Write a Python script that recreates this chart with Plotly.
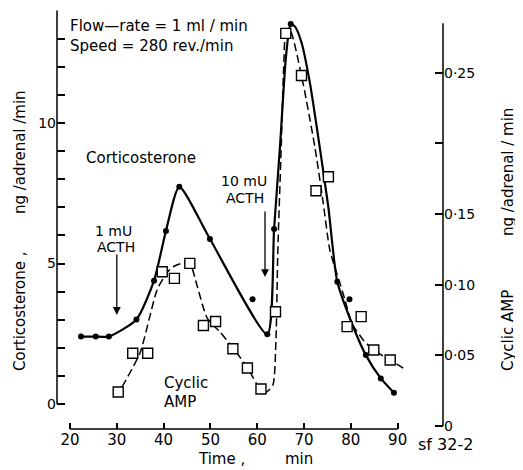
import plotly.graph_objects as go

# corticosterone (ng/adrenal/min), filled dots
cort_t = [22.35, 25.5, 28.3, 34.2, 37.95, 40.5, 43.35, 49.9, 59.0, 62.15,
          63.6, 67.15, 77.1, 79.7, 83.2, 86.4, 89.2]
cort_v = [2.40, 2.40, 2.40, 3.01, 4.39, 6.16, 7.73, 5.87, 3.73, 2.48,
          6.23, 13.52, 4.35, 3.73, 1.74, 0.91, 0.40]

# hand-drawn solid curve through the corticosterone points
cort_curve_t = [22.35, 25.5, 28.3, 34.2, 37.95, 40.5, 43.35, 49.9, 62.15, 63.6,
                64.86, 66.14, 67.15, 68.07, 69.5, 71.27, 72.7, 75.18, 77.1,
                80.5, 83.2, 86.4, 89.2]
cort_curve_v = [2.40, 2.40, 2.40, 3.01, 4.39, 6.16, 7.73, 5.87, 2.48, 6.23,
                9.16, 12.36, 13.52, 13.43, 12.84, 11.41, 9.87, 7.02, 4.35,
                2.75, 1.74, 0.91, 0.40]

# cyclic AMP (ng/adrenal/min), open squares
camp_t = [30.3, 33.4, 36.6, 39.7, 42.3, 45.6, 48.5, 51.1, 54.8, 57.9,
          60.8, 63.9, 66.1, 69.45, 72.55, 75.2, 79.2, 82.2, 84.9, 88.4]
camp_v = [0.0241, 0.0515, 0.0515, 0.1092, 0.1045, 0.1151, 0.0711, 0.0740,
          0.0547, 0.0410, 0.0262, 0.0809, 0.2779, 0.2481, 0.1665, 0.1764,
          0.0703, 0.0774, 0.0538, 0.0467]

# hand-drawn dashed curve for cyclic AMP
camp_curve_t = [31.1, 34.95, 38.6, 40.65, 42.05, 43.85, 45.6, 47.1, 49.3, 52.05,
                54.9, 57.9, 60.6, 61.9, 63.35, 64.0, 64.4, 65.1, 65.7, 66.1,
                67.0, 69.45, 72.3, 74.1, 75.5, 77.0, 78.75, 80.2, 82.65, 84.8,
                88.4, 91.8]
camp_curve_v = [0.0276, 0.0517, 0.0963, 0.1083, 0.1127, 0.1151, 0.1151, 0.0998,
                0.0764, 0.0665, 0.0550, 0.0413, 0.0262, 0.0240, 0.0290, 0.0609,
                0.1246, 0.1953, 0.2590, 0.2779, 0.2800, 0.2480, 0.1977, 0.1578,
                0.1246, 0.1080, 0.0892, 0.0727, 0.0609, 0.0538, 0.0467, 0.0396]

x_ticks = [20, 30, 40, 50, 60, 70, 80, 90]
left_ticks = list(range(0, 15))
left_labels = ['0', '', '', '', '', '5', '', '', '', '', '10', '', '', '', '']
right_ticks = [0, 0.05, 0.10, 0.15, 0.20, 0.25]
right_labels = ['0', '0·05', '0·10', '0·15', '', '0·25']

# the page body has an 8px margin, so the figure is shrunk and shifted by it
OFF = 8
W, H = 523 - OFF, 470 - OFF
L, R, T, B = 57, 443, 10, 429   # plot area, page pixels
FONT = 'DejaVu Sans, Verdana, sans-serif'


def px(x):
    return (x - L) / (R - L)


def py(y):
    return (B - y) / (B - T)


fig = go.Figure()

fig.add_trace(go.Scatter(x=cort_curve_t, y=cort_curve_v, mode='lines',
                         line=dict(color='black', width=2.2, shape='spline', smoothing=0.6),
                         hoverinfo='skip', showlegend=False))
fig.add_trace(go.Scatter(x=camp_curve_t, y=camp_curve_v, mode='lines', yaxis='y2',
                         line=dict(color='black', width=1.5, dash='8px,4px',
                                   shape='spline', smoothing=0.6),
                         hoverinfo='skip', showlegend=False))
fig.add_trace(go.Scatter(x=cort_t, y=cort_v, mode='markers', name='Corticosterone',
                         marker=dict(color='black', size=6), showlegend=False))
fig.add_trace(go.Scatter(x=camp_t, y=camp_v, mode='markers', yaxis='y2', name='Cyclic AMP',
                         marker=dict(symbol='square', size=10, color='white',
                                     line=dict(color='black', width=1.4)),
                         showlegend=False))

# axis lines drawn as shapes so they only span the labelled ranges
fig.add_shape(type='line', xref='x', yref='paper', x0=20, x1=90, y0=0, y1=0,
              line=dict(color='black', width=1.5))
fig.add_shape(type='line', xref='paper', yref='y', x0=0, x1=0, y0=0, y1=14,
              line=dict(color='black', width=1.5))
fig.add_shape(type='line', xref='paper', yref='y2', x0=1, x1=1, y0=0, y1=0.285,
              line=dict(color='black', width=1.5))

ann = []


def text(x, y, s, anchor='center', size=14, angle=0):
    ann.append(dict(xref='paper', yref='paper', x=px(x), y=py(y), text=s,
                    showarrow=False, xanchor=anchor, yanchor='middle', align='left',
                    textangle=angle, font=dict(size=size, color='black', family=FONT)))


text(68, 36, 'Flow—rate = 1 ml / min<br>Speed = 280 rev./min', 'left', size=15)
text(141, 158, 'Corticosterone', size=15)
text(113, 231, '1 mU')
text(116, 247, 'ACTH')
text(244, 181, '10 mU')
text(245, 198, 'ACTH')
text(162, 383, 'Cyclic', 'left', size=15)
text(162, 402, 'AMP', 'left', size=15)
text(416, 445, 'sf 32-2', 'left', size=16)
text(196, 459, 'Time ,', 'left', size=15)
text(283, 459, 'min', 'left', size=15)
text(20, 311, 'Corticosterone ,', angle=-90, size=15)
text(20, 152, 'ng /adrenal /min', angle=-90, size=15)
text(508, 331, 'Cyclic AMP', angle=-90, size=15)
text(508, 172, 'ng /adrenal / min', angle=-90, size=15)

# ACTH arrows
ann.append(dict(x=30, y=3.17, ax=30, ay=5.37, xref='x', yref='y', axref='x', ayref='y',
                text='', showarrow=True, arrowhead=2, arrowsize=1.2, arrowwidth=1.3,
                arrowcolor='black'))
ann.append(dict(x=61.66, y=4.52, ax=61.66, ay=6.9, xref='x', yref='y', axref='x', ayref='y',
                text='', showarrow=True, arrowhead=2, arrowsize=1.2, arrowwidth=1.3,
                arrowcolor='black'))

t_left = 20 + (L - 70) / 4.681
t_right = 20 + (R - 70) / 4.681

fig.update_layout(
    width=W, height=H,
    margin=dict(l=L - OFF, r=W - (R - OFF), t=T - OFF, b=H - (B - OFF), autoexpand=False),
    plot_bgcolor='white', paper_bgcolor='white',
    font=dict(family=FONT, size=14, color='black'),
    annotations=ann,
    xaxis=dict(range=[t_left, t_right], tickvals=x_ticks, ticks='inside', ticklen=6,
               tickwidth=1.5, tickcolor='black', showline=False, showgrid=False,
               zeroline=False, automargin=False, tickfont=dict(size=15)),
    yaxis=dict(range=[(404 - B) / 28.1, (404 - T) / 28.1], tickvals=left_ticks,
               ticktext=left_labels, ticks='inside', ticklen=8, tickwidth=1.5,
               tickcolor='black', showline=False, showgrid=False, zeroline=False,
               automargin=False, tickfont=dict(size=14)),
    yaxis2=dict(range=[(426 - B) / 1413, (426 - T) / 1413], overlaying='y', side='right',
                tickvals=right_ticks, ticktext=right_labels, ticks='inside', ticklen=8,
                tickwidth=1.5, tickcolor='black', showline=False, showgrid=False,
                zeroline=False, automargin=False, tickfont=dict(size=14)),
)

fig.write_html('out.html')
